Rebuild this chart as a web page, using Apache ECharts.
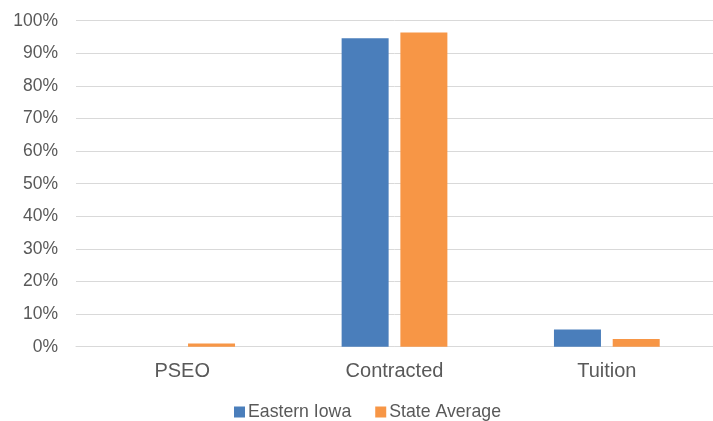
<!DOCTYPE html>
<html>
<head>
<meta charset="utf-8">
<script src="https://cdn.jsdelivr.net/npm/echarts@6/dist/echarts.min.js"></script>
<style>
html,body{margin:0;padding:0;background:#fff;}
#chart{width:713px;height:421px;}
</style>
</head>
<body>
<div id="chart"></div>
<script>
const categories = ['PSEO', 'Contracted', 'Tuition'];
const easternIowa = [0, 94.6, 5.3];
const stateAverage = [1.0, 96.4, 2.4];
const seriesNames = ['Eastern Iowa', 'State Average'];

const chart = echarts.init(document.getElementById('chart'), null, {renderer: 'canvas'});
const font = 'Liberation Sans, Arial, sans-serif';
chart.setOption({
  animation: false,
  grid: {left: 76, right: 0, top: 20.7, bottom: 74.3, containLabel: false},
  legend: {
    data: seriesNames,
    top: 398,
    left: 229,
    itemWidth: 11,
    itemHeight: 11,
    itemGap: 24,
    icon: 'rect',
    textStyle: {color: '#595959', fontSize: 17.7, fontFamily: font, padding: [0, 0, 0, -2]}
  },
  xAxis: {
    type: 'category',
    data: categories,
    axisLine: {lineStyle: {color: '#d9d9d9', width: 1}},
    axisTick: {show: false},
    axisLabel: {color: '#595959', fontSize: 20, fontFamily: font, margin: 15}
  },
  yAxis: {
    type: 'value',
    min: 0,
    max: 100,
    interval: 10,
    axisLine: {show: false},
    axisTick: {show: false},
    splitLine: {lineStyle: {color: '#d9d9d9', width: 1}},
    axisLabel: {color: '#595959', fontSize: 17.5, fontFamily: font, margin: 18, formatter: '{value}%'}
  },
  series: [
    {name: seriesNames[0], type: 'bar', data: easternIowa, barWidth: 47, barGap: '25%', itemStyle: {color: '#4a7ebb'}},
    {name: seriesNames[1], type: 'bar', data: stateAverage, barWidth: 47, itemStyle: {color: '#f79646'}}
  ]
});
</script>
</body>
</html>
